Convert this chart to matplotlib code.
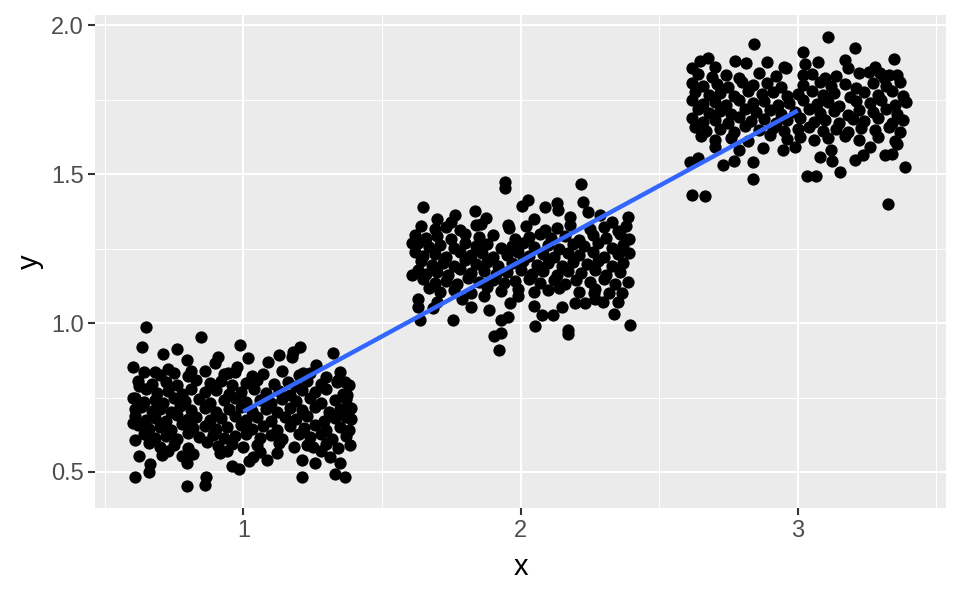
import numpy as np
import matplotlib.pyplot as plt

plt.rcParams['font.family'] = ['Liberation Sans', 'DejaVu Sans']

# jittered points, one pair of lists per group
c1_x = [0.64, 0.70, 0.75, 0.80, 0.86, 0.93, 0.97, 1.03, 1.07, 1.14, 1.20, 1.24, 1.30, 1.35,
	0.62, 0.67, 0.72, 0.76, 0.83, 0.88, 0.92, 0.96, 1.01, 1.05, 1.11, 1.16, 1.19, 1.23, 1.28, 1.34, 1.38,
	0.65, 0.69, 0.73, 0.78, 0.81, 0.86, 0.90, 0.95, 0.99, 1.04, 1.08, 1.13, 1.17, 1.21, 1.26, 1.30, 1.36,
	0.61, 0.64, 0.68, 0.71, 0.75, 0.79, 0.84, 0.88, 0.93, 0.97, 1.01, 1.06, 1.10, 1.14, 1.19, 1.24, 1.28, 1.33, 1.37,
	0.63, 0.67, 0.70, 0.74, 0.77, 0.81, 0.86, 0.90, 0.95, 0.99, 1.03, 1.08, 1.12, 1.17, 1.21, 1.26, 1.31, 1.35, 1.39,
	0.61, 0.65, 0.68, 0.72, 0.76, 0.80, 0.83, 0.88, 0.92, 0.97, 1.01, 1.05, 1.10, 1.15, 1.19, 1.23, 1.29, 1.33, 1.37,
	0.62, 0.66, 0.70, 0.74, 0.78, 0.82, 0.86, 0.90, 0.94, 0.99, 1.03, 1.07, 1.12, 1.17, 1.22, 1.26, 1.30, 1.35,
	0.64, 0.68, 0.72, 0.76, 0.80, 0.84, 0.89, 0.93, 0.97, 1.01, 1.06, 1.10, 1.14, 1.20, 1.24, 1.28, 1.32, 1.37,
	0.66, 0.70, 0.75, 0.80, 0.87, 0.91, 0.96, 1.00, 1.05, 1.13, 1.25, 1.30, 1.34,
	0.650, 0.633, 0.849, 0.602, 0.711, 0.761, 0.795, 0.813, 0.681, 0.729, 0.624, 0.602, 0.608, 0.602,
	0.608, 0.624, 0.663, 0.661, 0.608, 0.798, 0.865, 0.863, 0.798, 0.705, 0.916, 0.958, 0.986, 1.019,
	1.084, 0.988, 1.018, 0.910, 0.898, 0.946, 0.976, 1.127, 1.178, 1.205, 1.175, 1.090, 1.325, 1.263,
	1.217, 1.367, 1.337, 1.373, 1.382, 1.388, 1.383, 1.386, 1.349, 1.331, 1.367, 1.211, 1.211, 1.259,
	1.313, 1.181, 1.229, 1.120, 1.036, 0.73, 0.82, 0.94, 1.06, 1.28, 0.78]
c1_y = [0.837, 0.825, 0.832, 0.821, 0.840, 0.828, 0.835, 0.823, 0.830, 0.838, 0.824, 0.833, 0.820, 0.836,
	0.807, 0.795, 0.802, 0.791, 0.810, 0.798, 0.805, 0.793, 0.800, 0.808, 0.794, 0.803, 0.790, 0.806, 0.797, 0.809, 0.792,
	0.777, 0.765, 0.772, 0.761, 0.780, 0.768, 0.775, 0.763, 0.770, 0.778, 0.764, 0.773, 0.760, 0.776, 0.767, 0.779, 0.762,
	0.747, 0.735, 0.742, 0.731, 0.750, 0.738, 0.745, 0.733, 0.740, 0.748, 0.734, 0.743, 0.730, 0.746, 0.737, 0.749, 0.732, 0.741, 0.744,
	0.717, 0.705, 0.712, 0.701, 0.720, 0.708, 0.715, 0.703, 0.710, 0.718, 0.704, 0.713, 0.700, 0.716, 0.707, 0.719, 0.702, 0.711, 0.714,
	0.687, 0.675, 0.682, 0.671, 0.690, 0.678, 0.685, 0.673, 0.680, 0.688, 0.674, 0.683, 0.670, 0.686, 0.677, 0.689, 0.672, 0.681, 0.684,
	0.657, 0.645, 0.652, 0.641, 0.660, 0.648, 0.655, 0.643, 0.650, 0.658, 0.644, 0.653, 0.640, 0.656, 0.647, 0.659, 0.642, 0.651,
	0.627, 0.615, 0.622, 0.611, 0.630, 0.618, 0.625, 0.613, 0.620, 0.628, 0.614, 0.623, 0.610, 0.626, 0.617, 0.629, 0.612, 0.621,
	0.597, 0.585, 0.592, 0.581, 0.600, 0.588, 0.595, 0.583, 0.590, 0.598, 0.584, 0.593, 0.580,
	0.988, 0.918, 0.952, 0.851, 0.896, 0.912, 0.876, 0.839, 0.837, 0.845, 0.789, 0.747, 0.710, 0.663,
	0.607, 0.554, 0.527, 0.501, 0.482, 0.453, 0.484, 0.456, 0.531, 0.557, 0.565, 0.520, 0.509, 0.538,
	0.540, 0.926, 0.881, 0.887, 0.865, 0.833, 0.853, 0.893, 0.904, 0.921, 0.887, 0.870, 0.900, 0.859,
	0.831, 0.803, 0.803, 0.758, 0.714, 0.677, 0.641, 0.591, 0.531, 0.493, 0.484, 0.484, 0.540, 0.529,
	0.551, 0.583, 0.591, 0.563, 0.551, 0.570, 0.560, 0.572, 0.568, 0.571, 0.552]

c2_x = [1.64, 1.69, 1.73, 1.78, 1.84, 1.96, 2.02, 2.09, 2.13, 2.18, 2.25, 2.30, 2.35, 2.38,
	1.62, 1.66, 1.70, 1.75, 1.80, 1.85, 1.90, 1.98, 2.03, 2.07, 2.11, 2.16, 2.21, 2.26, 2.31, 2.36, 2.39,
	1.63, 1.67, 1.71, 1.76, 1.80, 1.84, 1.88, 1.93, 1.97, 2.01, 2.05, 2.10, 2.14, 2.19, 2.23, 2.28, 2.33, 2.37,
	1.62, 1.65, 1.69, 1.73, 1.78, 1.82, 1.86, 1.90, 1.95, 1.99, 2.03, 2.08, 2.12, 2.17, 2.21, 2.26, 2.30, 2.35, 2.39,
	1.64, 1.68, 1.72, 1.76, 1.80, 1.84, 1.88, 1.92, 1.97, 2.01, 2.06, 2.10, 2.15, 2.19, 2.24, 2.28, 2.33, 2.37,
	1.63, 1.66, 1.70, 1.74, 1.78, 1.82, 1.87, 1.91, 1.95, 2.00, 2.04, 2.08, 2.13, 2.17, 2.22, 2.27, 2.31, 2.36,
	1.65, 1.69, 1.73, 1.77, 1.81, 1.85, 1.90, 1.94, 1.98, 2.03, 2.07, 2.12, 2.16, 2.20, 2.25, 2.30, 2.34,
	1.67, 1.71, 1.76, 1.82, 1.88, 1.93, 1.99, 2.05, 2.10, 2.14, 2.21, 2.27, 2.32,
	1.943, 1.943, 2.217, 1.648, 1.763, 1.835, 1.877, 1.857, 2.006, 2.028, 2.090, 2.130, 2.136, 2.227,
	2.178, 2.245, 2.287, 2.389, 1.955, 1.630, 1.636, 1.684, 1.757, 1.820, 1.886, 1.961, 1.931, 1.955,
	1.905, 1.931, 1.922, 1.992, 2.049, 2.052, 2.076, 2.118, 2.148, 2.172, 2.172, 2.196, 2.233, 2.299,
	2.339, 2.395, 2.365, 2.389, 2.266, 1.61, 1.61, 1.63, 1.70, 1.79, 1.87, 2.27, 2.35, 1.70, 1.75,
	2.05, 2.33]
c2_y = [1.327, 1.315, 1.322, 1.311, 1.330, 1.318, 1.325, 1.313, 1.320, 1.328, 1.314, 1.323, 1.310, 1.326,
	1.297, 1.285, 1.292, 1.281, 1.300, 1.288, 1.295, 1.283, 1.290, 1.298, 1.284, 1.293, 1.280, 1.296, 1.287, 1.299, 1.282,
	1.267, 1.255, 1.262, 1.251, 1.270, 1.258, 1.265, 1.253, 1.260, 1.268, 1.254, 1.263, 1.250, 1.266, 1.257, 1.269, 1.252, 1.261,
	1.237, 1.225, 1.232, 1.221, 1.240, 1.228, 1.235, 1.223, 1.230, 1.238, 1.224, 1.233, 1.220, 1.236, 1.227, 1.239, 1.222, 1.231, 1.234,
	1.207, 1.195, 1.202, 1.191, 1.210, 1.198, 1.205, 1.193, 1.200, 1.208, 1.194, 1.203, 1.190, 1.206, 1.197, 1.209, 1.192, 1.201,
	1.177, 1.165, 1.172, 1.161, 1.180, 1.168, 1.175, 1.163, 1.170, 1.178, 1.164, 1.173, 1.160, 1.176, 1.167, 1.179, 1.162, 1.171,
	1.147, 1.135, 1.142, 1.131, 1.150, 1.138, 1.145, 1.133, 1.140, 1.148, 1.134, 1.143, 1.130, 1.146, 1.137, 1.149, 1.132,
	1.117, 1.105, 1.112, 1.101, 1.120, 1.108, 1.115, 1.103, 1.110, 1.118, 1.104, 1.113, 1.100,
	1.474, 1.452, 1.466, 1.388, 1.362, 1.377, 1.351, 1.332, 1.393, 1.413, 1.390, 1.402, 1.379, 1.407,
	1.355, 1.374, 1.362, 1.357, 1.329, 1.055, 1.010, 1.049, 1.010, 1.053, 1.044, 1.066, 1.010, 1.021,
	0.958, 0.965, 0.909, 1.091, 1.057, 0.990, 1.027, 1.027, 1.055, 0.977, 0.963, 1.068, 1.068, 1.072,
	1.030, 0.993, 1.100, 1.139, 1.100, 1.27, 1.16, 1.08, 1.07, 1.08, 1.09, 1.08, 1.07, 1.35, 1.34,
	1.35, 1.34]

c3_x = [2.64, 2.69, 2.74, 2.79, 2.86, 2.92, 3.05, 3.10, 3.14, 3.22, 3.31, 3.36,
	2.62, 2.66, 2.71, 2.75, 2.80, 2.84, 2.89, 2.94, 3.02, 3.08, 3.12, 3.17, 3.21, 3.27, 3.32, 3.37,
	2.63, 2.68, 2.72, 2.77, 2.82, 2.87, 2.91, 2.96, 3.00, 3.05, 3.09, 3.13, 3.19, 3.24, 3.29, 3.34, 3.38,
	2.62, 2.66, 2.70, 2.74, 2.79, 2.84, 2.88, 2.93, 2.97, 3.02, 3.07, 3.11, 3.15, 3.21, 3.26, 3.30, 3.35, 3.39,
	2.64, 2.68, 2.72, 2.76, 2.81, 2.85, 2.90, 2.94, 2.99, 3.04, 3.08, 3.13, 3.18, 3.22, 3.27, 3.32, 3.36,
	2.62, 2.66, 2.70, 2.75, 2.79, 2.83, 2.88, 2.92, 2.96, 3.01, 3.06, 3.10, 3.15, 3.20, 3.24, 3.29, 3.34, 3.38,
	2.63, 2.67, 2.72, 2.77, 2.81, 2.86, 2.91, 2.95, 3.00, 3.04, 3.09, 3.14, 3.18, 3.23, 3.28, 3.33, 3.37,
	2.65, 2.70, 2.76, 2.82, 2.90, 2.96, 3.01, 3.06, 3.11, 3.17, 3.22, 3.29, 3.35,
	3.108, 2.843, 3.205, 3.346, 3.020, 3.027, 3.020, 3.075, 2.958, 2.617, 2.647, 2.677, 2.773, 2.815,
	2.889, 3.171, 3.183, 3.256, 3.298, 3.328, 2.611, 2.642, 2.731, 2.771, 2.840, 2.840, 2.619, 2.665,
	3.326, 3.033, 3.066, 3.153, 3.388, 3.205, 3.237, 3.081, 3.316, 3.340, 3.123, 2.876, 2.948,
	2.70, 2.79, 2.99, 3.12, 3.26, 3.36, 2.70, 2.95, 3.28]
c3_y = [1.837, 1.825, 1.832, 1.821, 1.840, 1.828, 1.835, 1.823, 1.830, 1.838, 1.824, 1.833,
	1.807, 1.795, 1.802, 1.791, 1.810, 1.798, 1.805, 1.793, 1.800, 1.808, 1.794, 1.803, 1.790, 1.806, 1.797, 1.809,
	1.777, 1.765, 1.772, 1.761, 1.780, 1.768, 1.775, 1.763, 1.770, 1.778, 1.764, 1.773, 1.760, 1.776, 1.767, 1.779, 1.762,
	1.747, 1.735, 1.742, 1.731, 1.750, 1.738, 1.745, 1.733, 1.740, 1.748, 1.734, 1.743, 1.730, 1.746, 1.737, 1.749, 1.732, 1.741,
	1.717, 1.705, 1.712, 1.701, 1.720, 1.708, 1.715, 1.703, 1.710, 1.718, 1.704, 1.713, 1.700, 1.716, 1.707, 1.719, 1.702,
	1.687, 1.675, 1.682, 1.671, 1.690, 1.678, 1.685, 1.673, 1.680, 1.688, 1.674, 1.683, 1.670, 1.686, 1.677, 1.689, 1.672, 1.681,
	1.657, 1.645, 1.652, 1.641, 1.660, 1.648, 1.655, 1.643, 1.650, 1.658, 1.644, 1.653, 1.640, 1.656, 1.647, 1.659, 1.642,
	1.627, 1.615, 1.622, 1.611, 1.630, 1.618, 1.625, 1.613, 1.620, 1.628, 1.614, 1.623, 1.610,
	1.961, 1.938, 1.922, 1.886, 1.909, 1.868, 1.832, 1.876, 1.857, 1.857, 1.880, 1.889, 1.880, 1.872,
	1.876, 1.882, 1.855, 1.843, 1.838, 1.832, 1.541, 1.553, 1.530, 1.544, 1.541, 1.483, 1.430, 1.427,
	1.399, 1.494, 1.494, 1.508, 1.525, 1.547, 1.564, 1.558, 1.564, 1.569, 1.544, 1.586, 1.580,
	1.59, 1.58, 1.59, 1.58, 1.59, 1.60, 1.86, 1.86, 1.86]

groups = [1, 2, 3]
x_ticks = [1, 2, 3]
y_ticks = [0.5, 1.0, 1.5, 2.0]
y_tick_labels = ['0.5', '1.0', '1.5', '2.0']

# straight line fit on the un-jittered group value, like geom_smooth(method = "lm")
all_g = np.concatenate([np.full(len(c1_y), groups[0]), np.full(len(c2_y), groups[1]), np.full(len(c3_y), groups[2])])
all_y = np.concatenate([c1_y, c2_y, c3_y])
slope, intercept = np.polyfit(all_g, all_y, 1)
fit_x = np.array([groups[0], groups[-1]])

fig = plt.figure(figsize=(9.6, 5.93), dpi=100)
ax = fig.add_axes([0.099, 0.1433, 0.8864, 0.8314])
ax.set_facecolor('#EBEBEB')
for s in ax.spines.values():
	s.set_visible(False)

for xs, ys in [(c1_x, c1_y), (c2_x, c2_y), (c3_x, c3_y)]:
	ax.scatter(xs, ys, s=78, color='black', linewidths=0, zorder=3)
ax.plot(fit_x, intercept + slope * fit_x, color='#3366FF', linewidth=3.2, zorder=4, solid_capstyle='butt')

ax.set_xlim(0.465, 3.535)
ax.set_ylim(0.379, 2.034)
ax.set_xticks(x_ticks)
ax.set_xticklabels([str(t) for t in x_ticks])
ax.set_yticks(y_ticks)
ax.set_yticklabels(y_tick_labels)
ax.set_xticks([0.5, 1.5, 2.5, 3.5], minor=True)
ax.set_yticks([0.75, 1.25, 1.75], minor=True)
ax.grid(which='major', color='white', linewidth=1.5)
ax.grid(which='minor', color='white', linewidth=0.75)
ax.set_axisbelow(True)
ax.tick_params(which='major', length=4.8, width=1.5, color='#333333', labelsize=17, labelcolor='#4D4D4D', pad=3.5)
ax.tick_params(which='minor', length=0)
ax.set_xlabel('x', fontsize=21, labelpad=8)
ax.set_ylabel('y', fontsize=21, labelpad=5)

fig.savefig('out.png', dpi=100)
